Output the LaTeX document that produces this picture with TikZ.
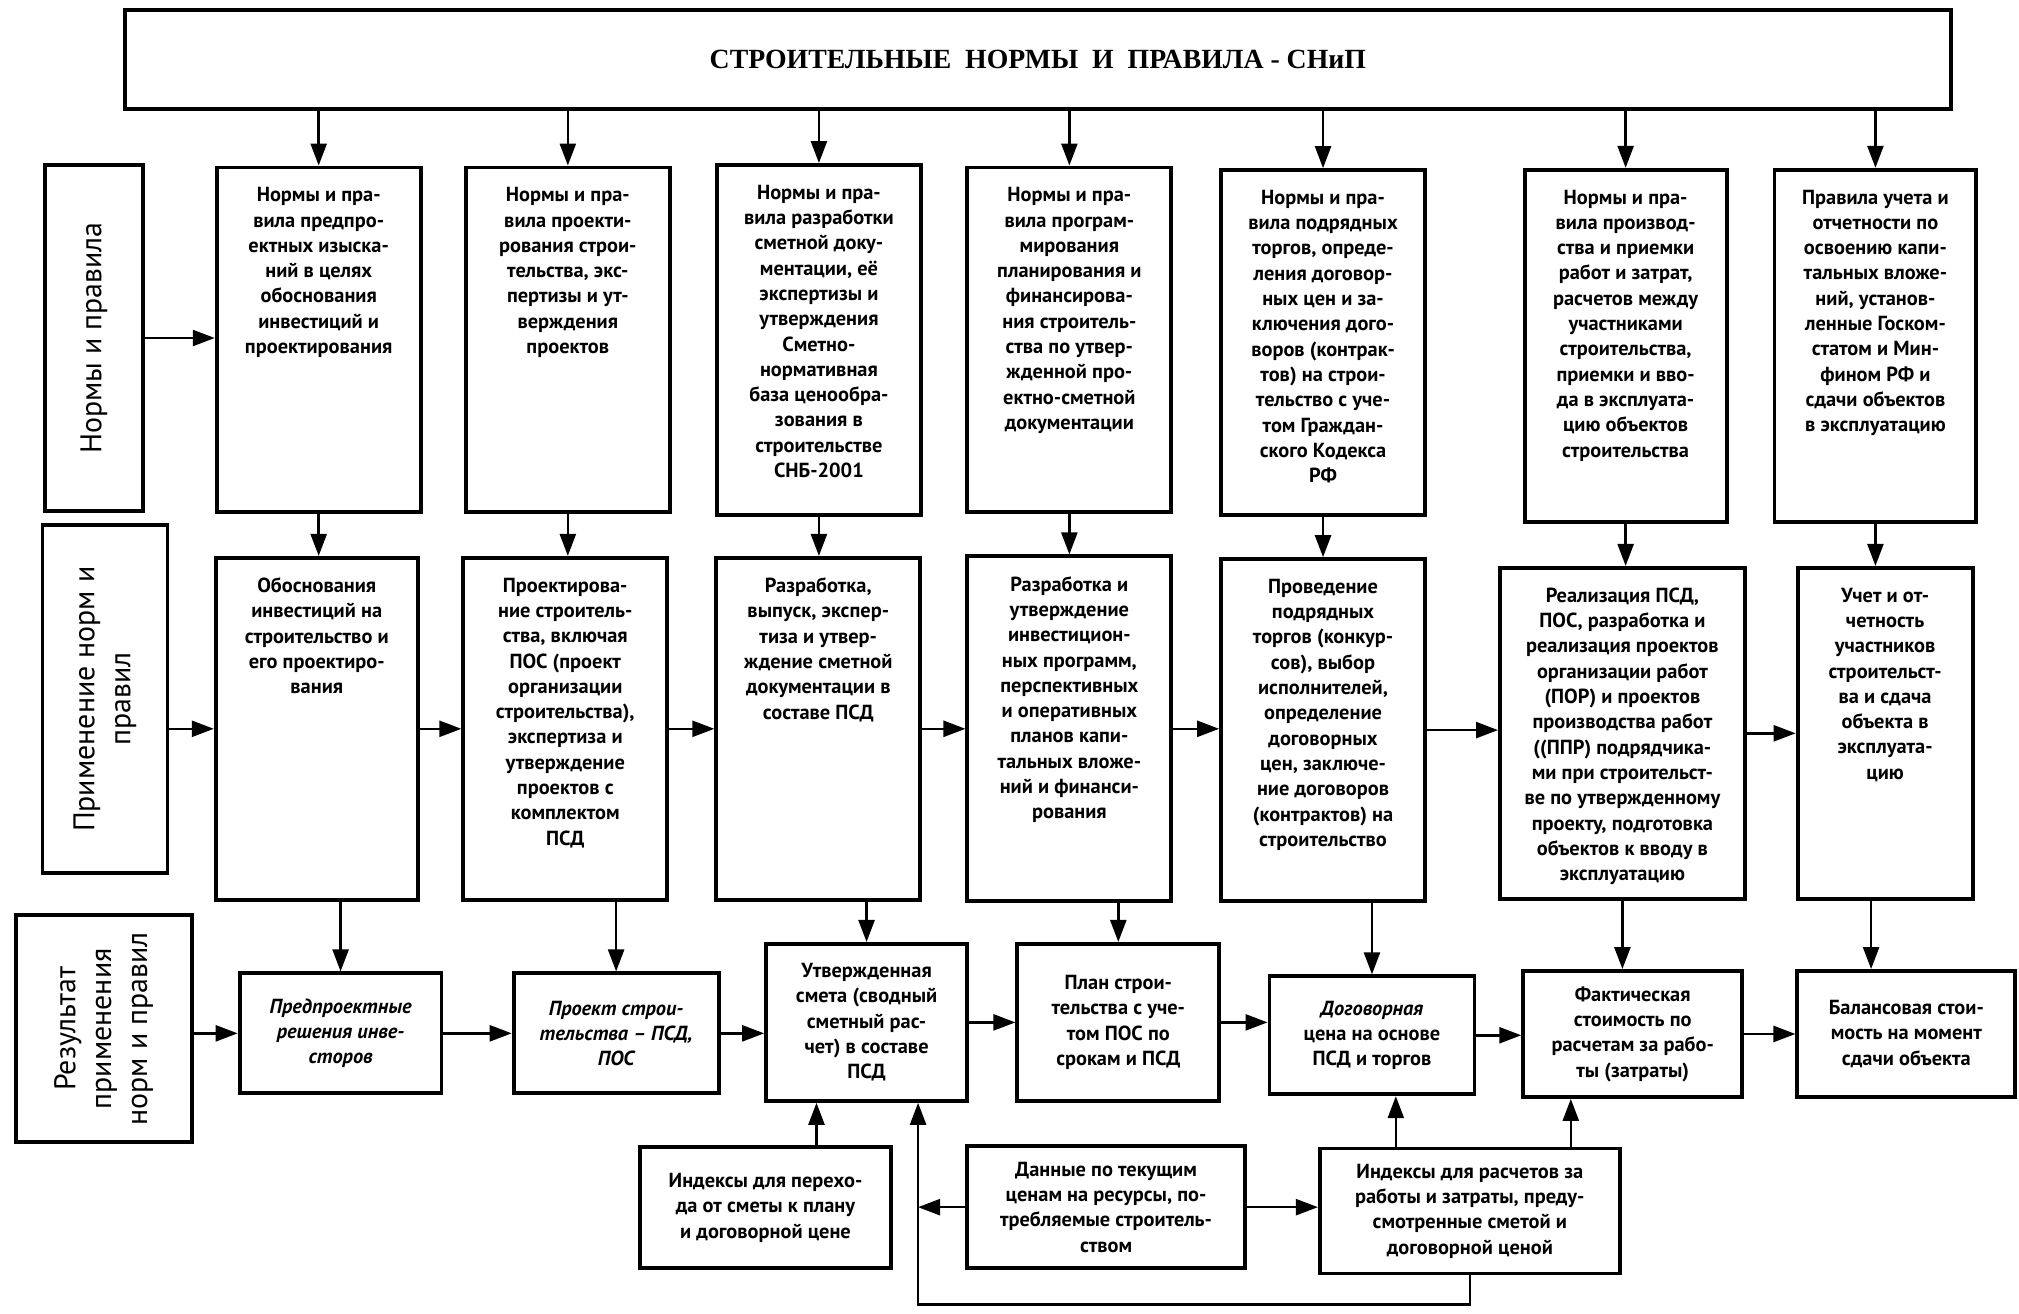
\documentclass[tikz,border=0pt]{standalone}
\usepackage{fontspec}
\setmainfont{PT Sans}
\newfontfamily\titlefont{Liberation Serif}
\usepackage{tikz}
\usetikzlibrary{arrows.meta}

\begin{document}
\begin{tikzpicture}[x=0.012876cm, y=-0.012876cm,
    >={Triangle[length=0.22cm,width=0.16cm]},
    arr/.style={->, line width=0.7pt},
    side/.style={draw, line width=1.1pt, rotate=90, align=center, font=\fontsize{8.5}{10.2}\selectfont},
    col/.style={draw, line width=1.1pt, inner sep=0pt, font=\fontsize{5.8}{7.2}\selectfont\bfseries},
    box/.style={draw, line width=1.1pt, align=center, font=\fontsize{5.8}{7.2}\selectfont\bfseries}]
                \useasboundingbox (0,0) rectangle (1568,1020);
                \node[draw, line width=1.1pt, minimum width=18.26cm, minimum height=0.99cm,
                    font=\titlefont\bfseries\fontsize{7.9}{9}\selectfont]
                    (top) at (806,46.5) {СТРОИТЕЛЬНЫЕ\ \ НОРМЫ\ \ И\ \ ПРАВИЛА - СНиП};

                \node[side, minimum width=3.46cm, minimum height=0.98cm] (L1) at (73,262.5) {Нормы и правила};
                \node[side, minimum width=3.48cm, minimum height=1.25cm] (L2) at (81.5,543) {Применение норм и\\правил};
                \node[side, minimum width=2.27cm, minimum height=1.76cm] (L3) at (80.5,799) {Результат\\применения\\норм и правил};

                \node[col] (c1) at (247.5,264) {\parbox[c][3.45cm][t]{2.04cm}{\vspace*{0.2cm}\centering
                    Нормы и пра-\\вила предпро-\\ектных изыска-\\ний в целях\\обоснования\\инвестиций и\\проектирования}};
                \node[col] (c2) at (441,264) {\parbox[c][3.45cm][t]{2.04cm}{\vspace*{0.2cm}\centering
                    Нормы и пра-\\вила проекти-\\рования строи-\\тельства, экс-\\пертизы и ут-\\верждения\\проектов}};
                \node[col] (c3) at (636,264) {\parbox[c][3.5cm][t]{2.04cm}{\vspace*{0.2cm}\centering
                    Нормы и пра-\\вила разработки\\сметной доку-\\ментации, её\\экспертизы и\\утверждения\\Сметно-\\нормативная\\база ценообра-\\зования в\\строительстве\\СНБ-2001}};
                \node[col] (c4) at (830.5,264) {\parbox[c][3.45cm][t]{2.04cm}{\vspace*{0.2cm}\centering
                    Нормы и пра-\\вила програм-\\мирования\\планирования и\\финансирова-\\ния строитель-\\ства по утвер-\\жденной про-\\ектно-сметной\\документации}};
                \node[col] (c5) at (1027.5,266) {\parbox[c][3.45cm][t]{2.04cm}{\vspace*{0.2cm}\centering
                    Нормы и пра-\\вила подрядных\\торгов, опреде-\\ления договор-\\ных цен и за-\\ключения дого-\\воров (контрак-\\тов) на строи-\\тельство с уче-\\том Граждан-\\ского Кодекса\\РФ}};
                \node[col] (c6) at (1262.5,268.5) {\parbox[c][3.52cm][t]{2.02cm}{\vspace*{0.2cm}\centering
                    Нормы и пра-\\вила производ-\\ства и приемки\\работ и затрат,\\расчетов между\\участниками\\строительства,\\приемки и вво-\\да в эксплуата-\\цию объектов\\строительства}};
                \node[col] (c7) at (1456.5,268.5) {\parbox[c][3.52cm][t]{2.02cm}{\vspace*{0.2cm}\centering
                    Правила учета и\\отчетности по\\освоению капи-\\тальных вложе-\\ний, установ-\\ленные Госком-\\статом и Мин-\\фином РФ и\\сдачи объектов\\в эксплуатацию}};

                \node[col] (r1) at (246,566) {\parbox[c][3.42cm][t]{2.02cm}{\vspace*{0.2cm}\centering
                    Обоснования\\инвестиций на\\строительство и\\его проектиро-\\вания}};
                \node[col] (r2) at (439,566) {\parbox[c][3.42cm][t]{2.04cm}{\vspace*{0.2cm}\centering
                    Проектирова-\\ние строитель-\\ства, включая\\ПОС (проект\\организации\\строительства),\\экспертиза и\\утверждение\\проектов с\\комплектом\\ПСД}};
                \node[col] (r3) at (635.5,566) {\parbox[c][3.42cm][t]{2.04cm}{\vspace*{0.2cm}\centering
                    Разработка,\\выпуск, экспер-\\тиза и утвер-\\ждение сметной\\документации в\\составе ПСД}};
                \node[col] (r4) at (830.5,566) {\parbox[c][3.45cm][t]{2.04cm}{\vspace*{0.2cm}\centering
                    Разработка и\\утверждение\\инвестицион-\\ных программ,\\перспективных\\и оперативных\\планов капи-\\тальных вложе-\\ний и финанси-\\рования}};
                \node[col] (r5) at (1027.5,567) {\parbox[c][3.42cm][t]{2.04cm}{\vspace*{0.2cm}\centering
                    Проведение\\подрядных\\торгов (конкур-\\сов), выбор\\исполнителей,\\определение\\договорных\\цен, заключе-\\ние договоров\\(контрактов) на\\строительство}};
                \node[col] (r6) at (1260,569.5) {\parbox[c][3.31cm][t]{2.45cm}{\vspace*{0.2cm}\centering
                    Реализация ПСД,\\ПОС, разработка и\\реализация проектов\\организации работ\\(ПОР) и проектов\\производства работ\\((ППР) подрядчика-\\ми при строительст-\\ве по утвержденному\\проекту, подготовка\\объектов к вводу в\\эксплуатацию}};
                \node[col] (r7) at (1464,569.5) {\parbox[c][3.31cm][t]{1.75cm}{\vspace*{0.2cm}\centering
                    Учет и от-\\четность\\участников\\строительст-\\ва и сдача\\объекта в\\эксплуата-\\цию}};

                \node[box, minimum width=2.02cm, minimum height=1.2cm] (s1) at (264.5,802.5) {\itshape Предпроектные\\\itshape решения инве-\\\itshape сторов};
                \node[box, minimum width=2.05cm, minimum height=1.2cm] (s2) at (478.5,802.5) {\itshape Проект строи-\\\itshape тельства -- ПСД,\\\itshape ПОС};
                \node[box, minimum width=2.01cm, minimum height=1.57cm] (s3) at (673,794) {Утвержденная\\смета (сводный\\сметный рас-\\чет) в составе\\ПСД};
                \node[box, minimum width=2.02cm, minimum height=1.57cm] (s4) at (868.5,794) {План строи-\\тельства с уче-\\том ПОС по\\срокам и ПСД};
                \node[box, minimum width=2.05cm, minimum height=1.18cm] (s5) at (1065.5,804) {\itshape Договорная\\цена на основе\\ПСД и торгов};
                \node[box, minimum width=2.19cm, minimum height=1.26cm] (s6) at (1268,803) {Фактическая\\стоимость по\\расчетам за рабо-\\ты (затраты)};
                \node[box, minimum width=2.18cm, minimum height=1.26cm] (s7) at (1480.5,803) {Балансовая стои-\\мость на момент\\сдачи объекта};

                \node[box, minimum width=2.51cm, minimum height=1.21cm] (b1) at (594.5,938) {Индексы для перехо-\\да от сметы к плану\\и договорной цене};
                \node[box, minimum width=2.78cm, minimum height=1.22cm] (b2) at (859,937.5) {Данные по текущим\\ценам на ресурсы, по-\\требляемые строитель-\\ством};
                \node[box, minimum width=3cm, minimum height=1.25cm] (b3) at (1141.5,940.5) {Индексы для расчетов за\\работы и затраты, преду-\\смотренные сметой и\\договорной ценой};

                \coordinate (fb) at (713,1013);
                \coordinate (b1up) at ([xshift=0.51cm]b1.north);
                \coordinate (b3l) at ([xshift=-0.74cm]b3.north);
                \coordinate (b3r) at ([xshift=1.01cm]b3.north);
                \coordinate (r7dn) at ([xshift=-0.14cm]r7.south);

                \draw[arr] (c1.north |- top.south) -- (c1.north);
                \draw[arr] (c2.north |- top.south) -- (c2.north);
                \draw[arr] (c3.north |- top.south) -- (c3.north);
                \draw[arr] (c4.north |- top.south) -- (c4.north);
                \draw[arr] (c5.north |- top.south) -- (c5.north);
                \draw[arr] (c6.north |- top.south) -- (c6.north);
                \draw[arr] (c7.north |- top.south) -- (c7.north);

                \draw[arr] (L1.south) -- (L1.south -| c1.west);
                \draw[arr] (c1.south) -- (c1.south |- r1.north);
                \draw[arr] (c2.south) -- (c2.south |- r2.north);
                \draw[arr] (c3.south) -- (c3.south |- r3.north);
                \draw[arr] (c4.south) -- (c4.south |- r4.north);
                \draw[arr] (c5.south) -- (c5.south |- r5.north);
                \draw[arr] (c6.south) -- (c6.south |- r6.north);
                \draw[arr] (c7.south) -- (c7.south |- r7.north);

                \draw[arr] (L2.south |- r1.west) -- (r1.west);
                \draw[arr] (r1.east) -- (r2.west);
                \draw[arr] (r2.east) -- (r3.west);
                \draw[arr] (r3.east) -- (r4.west);
                \draw[arr] (r4.east) -- (r4.east -| r5.west);
                \draw[arr] (r5.east) -- (r5.east -| r6.west);
                \draw[arr] (r6.east) -- (r7.west);

                \draw[arr] (r1.south -| s1.north) -- (s1.north);
                \draw[arr] (r2.south -| s2.north) -- (s2.north);
                \draw[arr] (r3.south -| s3.north) -- (s3.north);
                \draw[arr] (r4.south -| s4.north) -- (s4.north);
                \draw[arr] (r5.south -| s5.north) -- (s5.north);
                \draw[arr] (r6.south) -- (r6.south |- s6.north);
                \draw[arr] (r7dn) -- (r7dn |- s7.north);

                \draw[arr] (L3.south |- s1.west) -- (s1.west);
                \draw[arr] (s1.east) -- (s2.west);
                \draw[arr] (s2.east) -- (s2.east -| s3.west);
                \draw[arr] (s3.east) -- (s4.west);
                \draw[arr] (s4.east) -- (s4.east -| s5.west);
                \draw[arr] (s5.east) -- (s5.east -| s6.west);
                \draw[arr] (s6.east) -- (s7.west);

                \draw[arr] (b1up) -- (b1up |- s3.south);
                \draw[arr] (b2.west) -- (b2.west -| fb);
                \draw[arr] (b2.east) -- (b2.east -| b3.west);
                \draw[arr] (b3l) -- (b3l |- s5.south);
                \draw[arr] (b3r) -- (b3r |- s6.south);
                \draw[arr] (b3.south) |- (fb) -- (fb |- s3.south);
            \end{tikzpicture}
\end{document}
